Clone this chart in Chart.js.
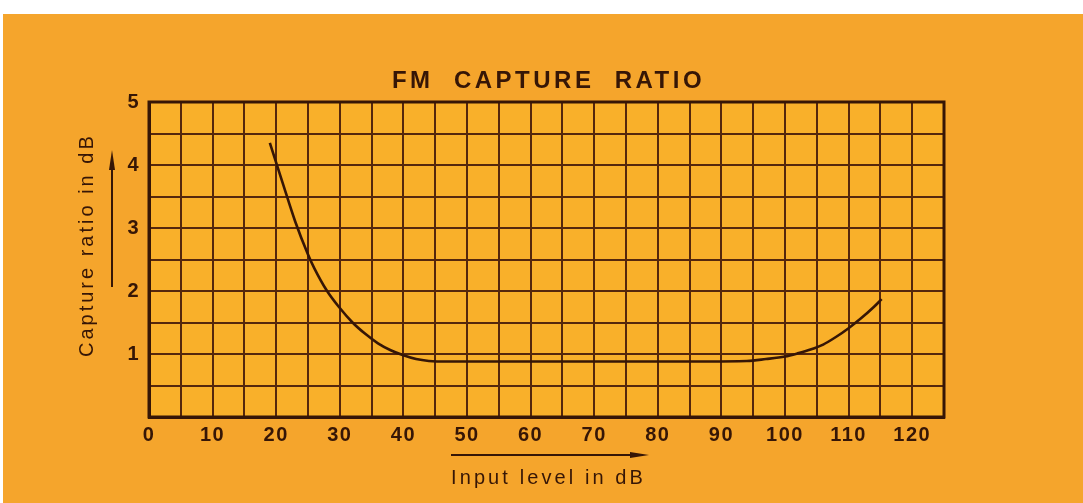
<!DOCTYPE html>
<html>
<head>
<meta charset="utf-8">
<script src="https://cdn.jsdelivr.net/npm/chart.js@4/dist/chart.umd.min.js"></script>
<style>
  html, body { margin: 0; padding: 0; background: #ffffff; }
  #wrap { width: 1083px; height: 503px; }
</style>
</head>
<body>
<div id="wrap"><canvas id="c" width="1083" height="503"></canvas></div>
<script>
// ---- data ----
const chartTitle = 'FM  CAPTURE  RATIO';
const xAxisTitle = 'Input level in dB';
const yAxisTitle = 'Capture ratio in dB';
const xTickLabels = [0, 10, 20, 30, 40, 50, 60, 70, 80, 90, 100, 110, 120];
const yTickLabels = [1, 2, 3, 4, 5];
const inputLevel = [19, 21, 23, 25, 26, 28, 30, 32, 34, 36, 38, 40, 42, 44, 47, 60, 80, 94, 97, 100, 102, 104, 106, 108, 110, 112, 114, 115.2];
const captureRatio = [4.35, 3.72, 3.1, 2.58, 2.36, 2.0, 1.73, 1.5, 1.32, 1.17, 1.06, 0.98, 0.92, 0.89, 0.88, 0.88, 0.88, 0.89, 0.92, 0.96, 1.01, 1.07, 1.15, 1.27, 1.41, 1.57, 1.75, 1.87];

const INK = '#361606';
const GRID = '#55270c';
const BG = '#f5a52c';
const PLOT_BG = '#f9b02a';
const FONT = "'Liberation Sans', Arial, sans-serif";

const points = inputLevel.map((x, i) => ({ x: x, y: captureRatio[i] }));

const decor = {
  id: 'decor',
  beforeDraw(chart) {
    const ctx = chart.ctx;
    const a = chart.chartArea;
    ctx.save();
    ctx.fillStyle = '#ffffff';
    ctx.fillRect(0, 0, chart.width, chart.height);
    ctx.fillStyle = BG;
    ctx.fillRect(3, 14, chart.width - 3, chart.height - 14);
    ctx.fillStyle = PLOT_BG;
    ctx.fillRect(a.left, a.top, a.right - a.left, a.bottom - a.top);
    ctx.restore();
    ctx.letterSpacing = '1.5px';
  },
  afterDraw(chart) {
    const ctx = chart.ctx;
    const a = chart.chartArea;
    ctx.save();
    ctx.strokeStyle = INK;
    ctx.lineWidth = 3;
    ctx.strokeRect(a.left, a.top, a.right - a.left, a.bottom - a.top);

    ctx.fillStyle = INK;
    // title
    ctx.letterSpacing = '3.5px';
    ctx.font = 'bold 24px ' + FONT;
    ctx.textAlign = 'center';
    ctx.textBaseline = 'middle';
    ctx.fillText(chartTitle, (a.left + a.right) / 2 + 2, 81);

    // x axis title + arrow
    ctx.letterSpacing = '3.1px';
    ctx.font = '20px ' + FONT;
    ctx.textAlign = 'left';
    ctx.textBaseline = 'middle';
    ctx.fillText(xAxisTitle, 451, 478);
    ctx.lineWidth = 2;
    ctx.beginPath();
    ctx.moveTo(451, 455);
    ctx.lineTo(640, 455);
    ctx.stroke();
    ctx.beginPath();
    ctx.moveTo(649, 455);
    ctx.lineTo(630, 452);
    ctx.lineTo(630, 458);
    ctx.closePath();
    ctx.fill();

    // y axis title + arrow
    ctx.save();
    ctx.translate(87, 357);
    ctx.rotate(-Math.PI / 2);
    ctx.letterSpacing = '3px';
    ctx.textAlign = 'left';
    ctx.textBaseline = 'middle';
    ctx.fillText(yAxisTitle, 0, 0);
    ctx.restore();
    ctx.beginPath();
    ctx.moveTo(112, 287);
    ctx.lineTo(112, 160);
    ctx.stroke();
    ctx.beginPath();
    ctx.moveTo(112, 150);
    ctx.lineTo(109, 170);
    ctx.lineTo(115, 170);
    ctx.closePath();
    ctx.fill();
    ctx.restore();
  }
};

new Chart(document.getElementById('c'), {
  type: 'line',
  data: {
    datasets: [{
      data: points,
      borderColor: INK,
      borderWidth: 2.6,
      pointRadius: 0,
      fill: false,
      cubicInterpolationMode: 'monotone'
    }]
  },
  options: {
    responsive: false,
    animation: false,
    events: [],
    layout: { padding: { top: 102, right: 139, bottom: 0, left: 0 } },
    plugins: { legend: { display: false }, title: { display: false }, tooltip: { enabled: false } },
    scales: {
      x: {
        type: 'linear',
        min: 0,
        max: 125,
        afterFit(s) { s.height = 86; },
        border: { display: true, color: INK, width: 3 },
        grid: {
          color: GRID,
          lineWidth: 2,
          drawTicks: false
        },
        ticks: {
          stepSize: 5,
          padding: 6,
          color: INK,
          font: { family: FONT, size: 20, weight: 'bold' },
          maxRotation: 0,
          autoSkip: false,
          callback(v) { return xTickLabels.includes(v) ? String(v) : ''; }
        }
      },
      y: {
        type: 'linear',
        min: 0,
        max: 5,
        afterFit(s) { s.width = 149; },
        border: { display: true, color: INK, width: 3 },
        grid: {
          color: GRID,
          lineWidth: 2,
          drawTicks: false
        },
        ticks: {
          stepSize: 0.5,
          padding: 9,
          color: INK,
          font: { family: FONT, size: 20, weight: 'bold' },
          autoSkip: false,
          callback(v) { return yTickLabels.includes(v) ? String(v) : ''; }
        }
      }
    }
  },
  plugins: [decor]
});
</script>
</body>
</html>
